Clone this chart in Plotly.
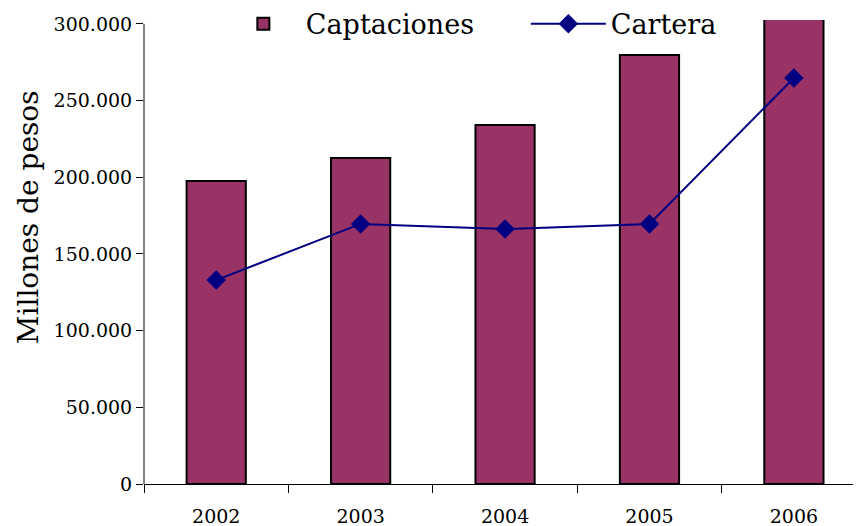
import plotly.graph_objects as go

years = ["2002", "2003", "2004", "2005", "2006"]
captaciones = [197600, 212600, 234100, 279800, 315000]
cartera = [133000, 169600, 166300, 169600, 264800]
y_ticks = [0, 50000, 100000, 150000, 200000, 250000, 300000]
y_tick_labels = ["0", "50.000", "100.000", "150.000", "200.000", "250.000", "300.000"]

FONT = "DejaVu Serif, serif"

fig = go.Figure()

fig.add_trace(go.Bar(
    x=years, y=captaciones, name="Captaciones",
    marker=dict(color="#993366", line=dict(color="#000000", width=2)),
))
fig.add_trace(go.Scatter(
    x=years, y=cartera, name="Cartera", mode="lines+markers",
    line=dict(color="#000080", width=2),
    marker=dict(symbol="diamond", size=15, color="#000080"),
))

# y axis line only up to the top tick
fig.add_shape(type="line", xref="paper", yref="y", x0=0, x1=0, y0=0, y1=300000,
              line=dict(color="#000000", width=1))

# axis title as annotation so it can sit above the axis middle
fig.add_annotation(text="Millones de pesos", textangle=-90, showarrow=False,
                   xref="paper", yref="paper", x=-0.16, y=0.575,
                   xanchor="center", yanchor="middle",
                   font=dict(size=28, family=FONT, color="#000000"))

# page body adds 8px margin, so margins are shifted by 8px
fig.update_layout(
    width=861, height=526,
    margin=dict(l=136, r=0, t=12, b=50, autoexpand=False),
    paper_bgcolor="white", plot_bgcolor="white",
    font=dict(family=FONT, color="#000000", size=19),
    bargap=0.59,
    showlegend=True,
    legend=dict(orientation="h", x=0.106, xanchor="left",
                y=0.991, yanchor="middle",
                font=dict(size=27, family=FONT), bgcolor="rgba(0,0,0,0)",
                itemwidth=75, entrywidth=215, traceorder="normal"),
)
fig.update_xaxes(
    type="category", range=[-0.5, 4.52],
    showline=True, linecolor="#000000", linewidth=1,
    ticks="outside", tickson="boundaries", ticklen=8, tickcolor="#000000",
    ticklabelstandoff=15, showgrid=False, zeroline=False,
    tickfont=dict(size=19, family=FONT),
)
fig.update_yaxes(
    range=[0, 302600], tickvals=y_ticks, ticktext=y_tick_labels,
    showline=False, ticks="outside", ticklen=7, tickcolor="#000000",
    ticklabelstandoff=0, showgrid=False, zeroline=False,
    tickfont=dict(size=19, family=FONT),
)

fig.write_html("out.html")
